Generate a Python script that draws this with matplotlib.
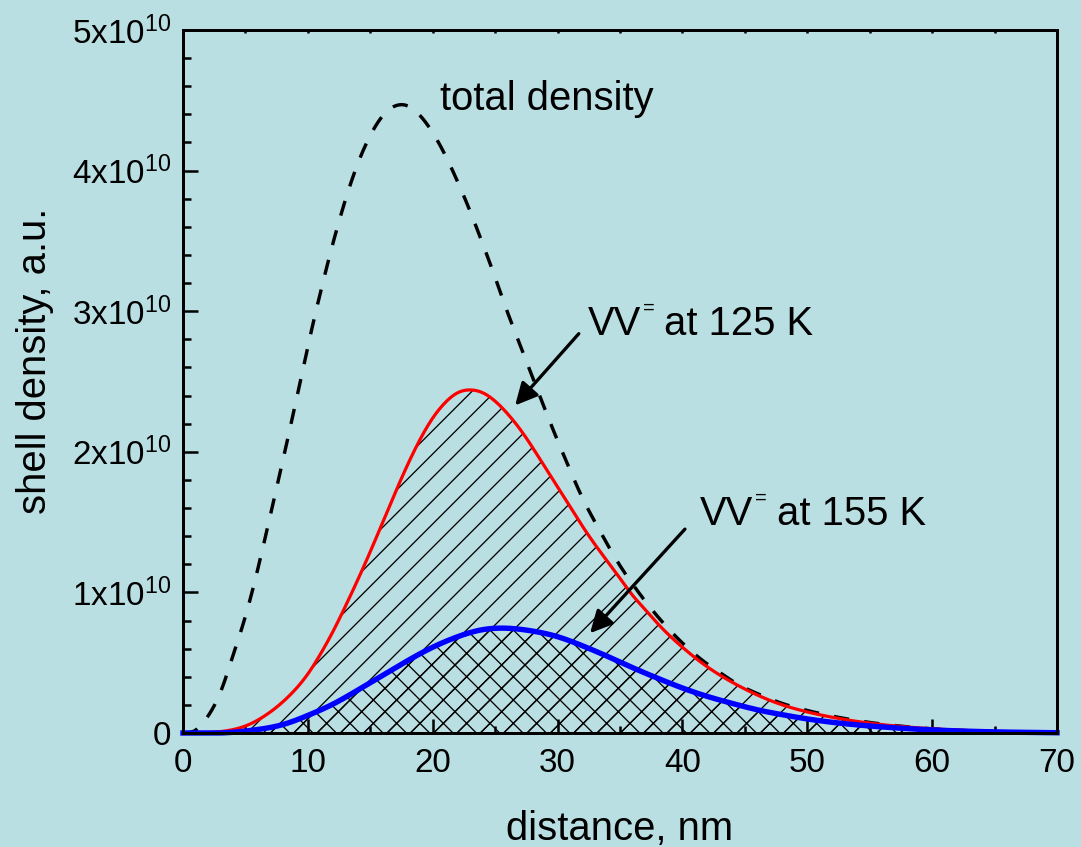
import numpy as np
import matplotlib.pyplot as plt
from matplotlib.ticker import MultipleLocator, FixedLocator, FixedFormatter

DPI = 140


def px(v):
    # sizes below are given in output pixels
    return v * 72 / DPI


plt.rcParams['font.family'] = ['Liberation Sans', 'DejaVu Sans']
plt.rcParams['mathtext.fontset'] = 'custom'
plt.rcParams['mathtext.rm'] = 'Liberation Sans'
plt.rcParams['mathtext.default'] = 'regular'
plt.rcParams['hatch.linewidth'] = px(1.3)

# shell densities in units of 1e10 vs distance (nm)
dist_total = [0, 1, 2, 3, 4, 5, 6, 7, 8, 9, 10, 11, 12, 13, 14, 15, 16, 17, 18, 19,
              20, 21, 22, 23, 24, 25, 26, 27, 28, 29, 30, 31, 32, 33, 34, 35, 36, 37,
              38, 39, 40, 41, 42, 43, 44, 46, 48, 50, 52, 55, 60, 65, 70]
total = [0.0, 0.02, 0.12, 0.29, 0.55, 0.83, 1.17, 1.55, 1.94, 2.34, 2.75, 3.13, 3.48,
         3.79, 4.05, 4.25, 4.39, 4.46, 4.46, 4.39, 4.27, 4.11, 3.92, 3.71, 3.48, 3.24,
         2.99, 2.76, 2.53, 2.30, 2.08, 1.87, 1.67, 1.50, 1.34, 1.19, 1.06, 0.94, 0.83,
         0.73, 0.64, 0.56, 0.49, 0.43, 0.37, 0.28, 0.21, 0.16, 0.12, 0.075, 0.03, 0.01,
         0.003]

dist_125 = [0, 3, 5, 7, 9, 10, 11, 12, 13, 14, 15, 16, 17, 18, 19, 20, 21, 22, 23, 24,
            25, 26, 27, 28, 29, 30, 31, 32, 33, 34, 35, 36, 37, 38, 39, 40, 42, 44, 46,
            48, 50, 55, 60, 65, 70]
vv_125 = [0.0, 0.01, 0.05, 0.15, 0.31, 0.42, 0.56, 0.72, 0.90, 1.09, 1.29, 1.50, 1.71,
          1.91, 2.09, 2.24, 2.35, 2.42, 2.44, 2.42, 2.36, 2.27, 2.16, 2.03, 1.89, 1.75,
          1.61, 1.47, 1.34, 1.22, 1.10, 0.98, 0.88, 0.78, 0.69, 0.61, 0.47, 0.36, 0.27,
          0.20, 0.15, 0.07, 0.03, 0.01, 0.0]

dist_155 = [0, 4, 6, 8, 10, 12, 14, 16, 18, 20, 22, 24, 26, 28, 30, 32, 34, 36, 38, 40,
            42, 44, 46, 48, 50, 55, 60, 65, 70]
vv_155 = [0.0, 0.005, 0.025, 0.06, 0.125, 0.205, 0.305, 0.41, 0.515, 0.61, 0.685, 0.735,
          0.745, 0.725, 0.685, 0.62, 0.545, 0.465, 0.39, 0.32, 0.26, 0.21, 0.165, 0.13,
          0.10, 0.05, 0.022, 0.008, 0.002]

ytick_vals = [0, 1, 2, 3, 4, 5]
ytick_labels = ['0', '1x10$^{10}$', '2x10$^{10}$', '3x10$^{10}$', '4x10$^{10}$', '5x10$^{10}$']


def spline(xp, yp, n=700):
    """Natural cubic spline through the points, returned in real units."""
    xp = np.asarray(xp, float)
    yp = np.asarray(yp, float)
    m = len(xp)
    h = np.diff(xp)
    A = np.zeros((m, m))
    b = np.zeros(m)
    A[0, 0] = A[-1, -1] = 1.0
    for i in range(1, m - 1):
        A[i, i - 1] = h[i - 1]
        A[i, i] = 2 * (h[i - 1] + h[i])
        A[i, i + 1] = h[i]
        b[i] = 3 * ((yp[i + 1] - yp[i]) / h[i] - (yp[i] - yp[i - 1]) / h[i - 1])
    c = np.linalg.solve(A, b)
    xs = np.linspace(xp[0], xp[-1], n)
    i = np.clip(np.searchsorted(xp, xs) - 1, 0, m - 2)
    dx = xs - xp[i]
    bb = (yp[i + 1] - yp[i]) / h[i] - h[i] * (2 * c[i] + c[i + 1]) / 3
    dd = (c[i + 1] - c[i]) / (3 * h[i])
    ys = yp[i] + bb * dx + c[i] * dx**2 + dd * dx**3
    return xs, np.maximum(ys, 0) * 1e10


xt, yt = spline(dist_total, total)
xr, yr = spline(dist_125, vv_125)
xb, yb = spline(dist_155, vv_155)

bg = '#b9dfe3'
fig = plt.figure(figsize=(1081/DPI, 847/DPI), dpi=DPI, facecolor=bg)
ax = fig.add_axes([183/1081, 1 - 733/847, 874/1081, 703/847])
ax.set_facecolor(bg)

ax.fill_between(xr, yr, color='none', hatch='//', edgecolor='k', linewidth=0)
ax.fill_between(xb, yb, color='none', hatch='xx', edgecolor='k', linewidth=0)
ax.plot(xt, yt, color='k', lw=px(3.4), dashes=(4.5, 4.5))
ax.plot(xr, yr, color='#ff0000', lw=px(3.2))
ax.plot(xb, yb, color='#0000ff', lw=px(5.4), clip_on=False)

ax.set_xlim(0, 70)
ax.set_ylim(0, 5e10)
ax.xaxis.set_major_locator(MultipleLocator(10))
ax.xaxis.set_minor_locator(MultipleLocator(5))
ax.yaxis.set_major_locator(FixedLocator([v * 1e10 for v in ytick_vals]))
ax.yaxis.set_major_formatter(FixedFormatter(ytick_labels))
ax.yaxis.set_minor_locator(MultipleLocator(0.2e10))

for s in ax.spines.values():
    s.set_linewidth(px(3))
ax.tick_params(which='both', direction='in', width=px(2.5), labelsize=px(33.3))
ax.tick_params(axis='x', which='major', length=px(14), pad=px(15))
ax.tick_params(axis='x', which='minor', length=px(7))
ax.tick_params(axis='y', which='major', length=px(15), pad=px(11.7))
ax.tick_params(axis='y', which='minor', length=px(8))

top = ax.secondary_xaxis('top')
top.xaxis.set_major_locator(MultipleLocator(5))
top.tick_params(direction='in', length=px(2.5), width=px(2.5), labeltop=False)
top.spines['top'].set_linewidth(px(3))

ax.set_xlabel('distance, nm', fontsize=px(40))
ax.set_ylabel('shell density, a.u.', fontsize=px(40))
ax.xaxis.set_label_coords(0.5, -0.11)
ax.yaxis.set_label_coords(-0.148, 0.53)

ax.text(20.6, 4.43e10, 'total density', fontsize=px(40), va='baseline')


def vv_label(x, y, temp):
    # "VV" with a small raised "=" sign, then the temperature
    kw = dict(xycoords='data', textcoords='offset points', va='baseline')
    ax.annotate('VV', xy=(x, y), xytext=(0, 0), fontsize=px(40), **kw)
    ax.annotate('=', xy=(x, y), xytext=(px(55), px(21)), fontsize=px(20), **kw)
    ax.annotate(f'at {temp} K', xy=(x, y), xytext=(px(76.7), 0), fontsize=px(40), **kw)


vv_label(32.4, 2.83e10, 125)
vv_label(41.4, 1.48e10, 155)

arrow = dict(arrowstyle='-|>', color='k', lw=px(3.3), mutation_scale=px(46.7),
             shrinkA=0, shrinkB=0)
ax.annotate('', xy=(26.6, 2.33e10), xytext=(31.7, 2.84e10), arrowprops=arrow)
ax.annotate('', xy=(32.6, 0.71e10), xytext=(40.2, 1.45e10), arrowprops=arrow)

fig.savefig('out.png', dpi=DPI, facecolor=bg)
